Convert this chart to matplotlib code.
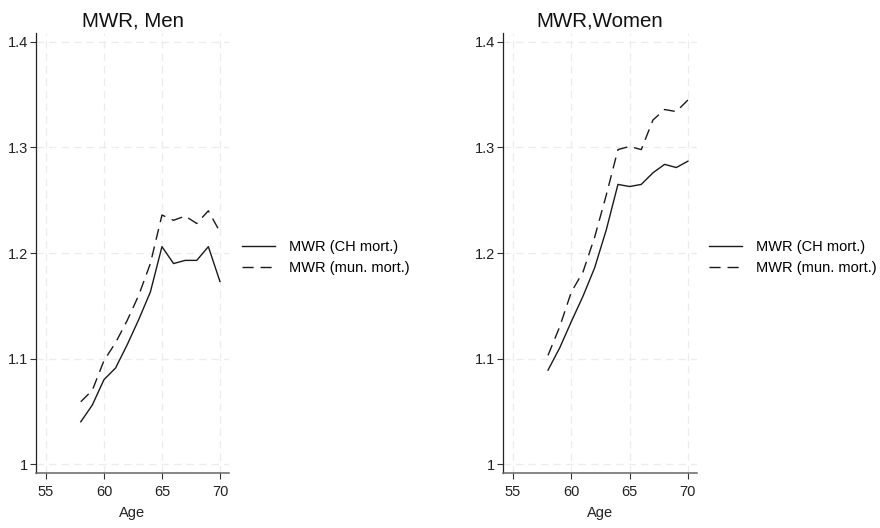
import matplotlib
matplotlib.use("Agg")
import matplotlib.pyplot as plt

plt.rcParams['font.family'] = ['Liberation Sans', 'DejaVu Sans']

age = [58, 59, 60, 61, 62, 63, 64, 65, 66, 67, 68, 69, 70]
men_ch = [1.040, 1.056, 1.080, 1.091, 1.113, 1.137, 1.163, 1.206, 1.190, 1.193, 1.193, 1.206, 1.173]
men_mun = [1.059, 1.070, 1.098, 1.115, 1.136, 1.160, 1.190, 1.236, 1.231, 1.235, 1.228, 1.240, 1.220]
women_ch = [1.089, 1.110, 1.135, 1.159, 1.186, 1.222, 1.265, 1.263, 1.265, 1.276, 1.284, 1.281, 1.287]
women_mun = [1.103, 1.130, 1.163, 1.182, 1.215, 1.255, 1.298, 1.301, 1.298, 1.326, 1.336, 1.334, 1.345]
titles = ["MWR, Men", "MWR,Women"]
labels = ["MWR (CH mort.)", "MWR (mun. mort.)"]
xticks = [55, 60, 65, 70]
yticks = [1.0, 1.1, 1.2, 1.3, 1.4]
yticklabels = ["1", "1.1", "1.2", "1.3", "1.4"]

W, H = 880, 528
fig = plt.figure(figsize=(W / 100, H / 100), dpi=100)

panels = [(36, 229, men_ch, men_mun, 242), (503, 697, women_ch, women_mun, 709)]
for i, (x0, x1, ch, mun, lx) in enumerate(panels):
    top, bottom = 33, 473
    ax = fig.add_axes([x0 / W, 1 - bottom / H, (x1 - x0) / W, (bottom - top) / H])
    ax.plot(age, ch, color='#1a1a1a', lw=1.0, label=labels[0])
    ax.plot(age, mun, color='#1a1a1a', lw=1.0, dashes=(8, 5), label=labels[1])
    ax.set_xlim(54.14, 70.78)
    ax.set_ylim(0.9915, 1.4085)
    ax.set_xticks(xticks)
    ax.set_yticks(yticks)
    ax.set_yticklabels(yticklabels)
    ax.grid(True, color='#ececec', lw=0.9, ls=(0, (6, 4)))
    ax.set_axisbelow(True)
    for s in ['top', 'right']:
        ax.spines[s].set_visible(False)
    ax.spines['left'].set_color('#222222')
    ax.spines['left'].set_linewidth(0.9)
    ax.spines['bottom'].set_color('#666666')
    ax.spines['bottom'].set_linewidth(1.1)
    ax.tick_params(axis='both', direction='out', length=4.3, width=0.8, color='#333333',
                   labelsize=10.5, labelcolor='#222222')
    ax.tick_params(axis='y', pad=1.5)
    ax.tick_params(axis='x', pad=4.5)
    ax.set_xlabel("Age", fontsize=10.5, color='#222222', labelpad=5)
    ax.set_title(titles[i], fontsize=14.8, color='#111111', pad=5)
    fig.legend(handles=ax.get_lines(), labels=labels, loc='center left',
               bbox_to_anchor=(lx / W, 1 - 257.5 / H), frameon=False, fontsize=10.5,
               handlelength=2.25, handletextpad=0.95, labelspacing=0.45, borderaxespad=0,
               borderpad=0)

fig.savefig("out.png", dpi=100, facecolor='white')
